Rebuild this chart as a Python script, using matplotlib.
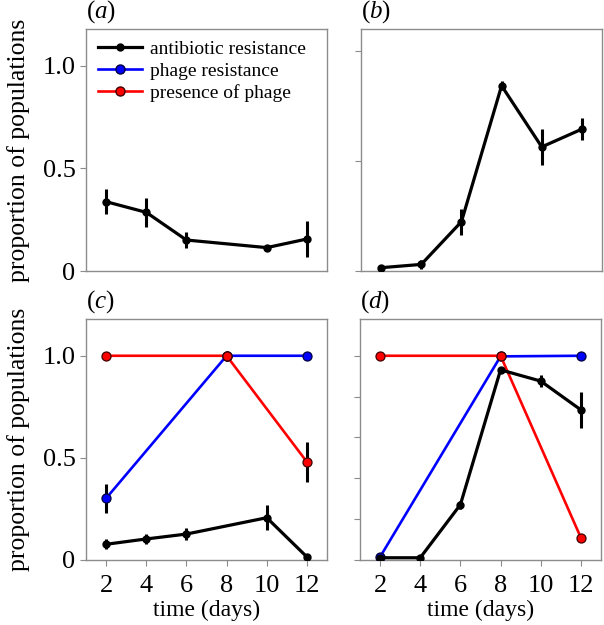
import matplotlib.pyplot as plt
import numpy as np
from matplotlib import rcParams

rcParams['font.family'] = 'Liberation Serif'
rcParams['mathtext.fontset'] = 'custom'
rcParams['mathtext.it'] = 'Liberation Serif:italic'
rcParams['mathtext.rm'] = 'Liberation Serif'

days = [2, 4, 6, 8, 10, 12]

# panel (a): antibiotic resistance, no phage (day 8 missing)
a_days = [2, 4, 6, 10, 12]
a_ab = [0.338, 0.286, 0.151, 0.114, 0.156]
a_ab_err = [0.06, 0.07, 0.04, 0.015, 0.09]

# panel (b)
b_ab = [0.015, 0.03, 0.224, 0.842, 0.564, 0.645]
b_ab_err = [0.0, 0.02, 0.06, 0.02, 0.08, 0.05]

# panel (c)
c_ab_days = [2, 4, 6, 10, 12]
c_ab = [0.077, 0.103, 0.127, 0.207, 0.015]
c_ab_err = [0.025, 0.025, 0.03, 0.06, 0.0]
c_res_days = [2, 8, 12]
c_res = [0.302, 1.0, 1.0]
c_res_err = [0.07, 0.0, 0.0]
c_pha_days = [2, 8, 12]
c_pha = [1.0, 1.0, 0.48]
c_pha_err = [0.0, 0.0, 0.1]

# panel (d)
d_ab = [0.011, 0.011, 0.271, 0.931, 0.876, 0.735]
d_ab_err = [0.0, 0.0, 0.02, 0.015, 0.03, 0.09]
d_res_days = [2, 8, 12]
d_res = [0.015, 0.997, 1.0]
d_pha_days = [2, 8, 12]
d_pha = [1.0, 1.0, 0.109]

spine_col = '#8c8c8c'
tick_fs = 19
label_fs = 17
ylabel_fs = 18.5

fig = plt.figure(figsize=(6.04, 6.25), dpi=100)
ax_a = fig.add_axes([0.1424, 0.5664, 0.399, 0.3872])
ax_b = fig.add_axes([0.5977, 0.5664, 0.399, 0.3872])
ax_c = fig.add_axes([0.1424, 0.104, 0.399, 0.3856])
ax_d = fig.add_axes([0.596, 0.104, 0.399, 0.3856])


def style(ax):
    for s in ax.spines.values():
        s.set_color(spine_col)
        s.set_linewidth(1.0)
    ax.tick_params(colors=spine_col, labelcolor='k', labelsize=tick_fs,
                   direction='out', length=4, width=0.8)
    ax.tick_params(axis='x', pad=7)
    ax.set_xlim(1, 13)


def black(ax, x, y, err):
    ax.errorbar(x, y, yerr=err, color='k', lw=2.3, elinewidth=2.2,
                marker='o', ms=5, capsize=0, zorder=4)


def colored(ax, x, y, col, err=None):
    ax.plot(x, y, color=col, lw=1.9, marker='o', ms=6.5, mfc=col,
            mec='#400000' if col == 'r' else '#000040', mew=0.9, zorder=3)
    if err is not None:
        ax.errorbar(x, y, yerr=err, fmt='none', ecolor='k',
                    elinewidth=2.2, capsize=0, zorder=2)


for ax in (ax_a, ax_b, ax_c, ax_d):
    style(ax)

# (a)
black(ax_a, a_days, a_ab, a_ab_err)
ax_a.set_ylim(0, 1.18)
ax_a.set_yticks([0, 0.5, 1.0])
ax_a.set_yticklabels(['0', '0.5', '1.0'])
ax_a.tick_params(axis='x', length=0, labelbottom=False)
ax_a.set_ylabel('proportion of populations', fontsize=ylabel_fs, labelpad=9)
h1, = ax_a.plot([], [], color='k', lw=2.3, marker='o', ms=5)
h2, = ax_a.plot([], [], color='b', lw=1.9, marker='o', ms=6.5, mec='#000040')
h3, = ax_a.plot([], [], color='r', lw=1.9, marker='o', ms=6.5, mec='#400000')
ax_a.legend([h1, h2, h3],
            ['antibiotic resistance', 'phage resistance', 'presence of phage'],
            loc='upper left', frameon=False, fontsize=14, handlelength=2.3,
            handletextpad=0.4, labelspacing=0.2, borderaxespad=0.2,
            bbox_to_anchor=(0.0, 1.0))

# (b)
black(ax_b, days, b_ab, b_ab_err)
ax_b.set_ylim(0, 1.1)
ax_b.set_yticks([0, 0.5, 1.0])
ax_b.tick_params(axis='y', labelleft=False)
ax_b.tick_params(axis='x', length=0, labelbottom=False)

# (c)
colored(ax_c, c_pha_days, c_pha, 'r', c_pha_err)
colored(ax_c, c_res_days, c_res, 'b', c_res_err)
# red marker on top where the two overlap at day 8
ax_c.plot(c_pha_days[1:2], c_pha[1:2], 'o', color='r', ms=6.5, mec='#400000',
          mew=0.9, zorder=5)
black(ax_c, c_ab_days, c_ab, c_ab_err)
ax_c.set_ylim(0, 1.18)
ax_c.set_yticks([0, 0.5, 1.0])
ax_c.set_yticklabels(['0', '0.5', '1.0'])
ax_c.set_xticks(days)
ax_c.set_ylabel('proportion of populations', fontsize=ylabel_fs, labelpad=9)
ax_c.set_xlabel('time (days)', fontsize=label_fs, labelpad=2)

# (d)
colored(ax_d, d_res_days, d_res, 'b')
colored(ax_d, d_pha_days, d_pha, 'r')
black(ax_d, days, d_ab, d_ab_err)
ax_d.set_ylim(0, 1.18)
ax_d.set_yticks(np.arange(0, 1.01, 0.2))
ax_d.tick_params(axis='y', labelleft=False)
ax_d.set_xticks(days)
ax_d.set_xlabel('time (days)', fontsize=label_fs, labelpad=2)

for ax, lab in zip((ax_a, ax_b, ax_c, ax_d), 'abcd'):
    ax.text(0.0, 1.015, '(' + r'$\mathit{' + lab + '}$' + ')',
            transform=ax.transAxes, fontsize=18, ha='left', va='bottom')

fig.savefig('out.png', dpi=100)
